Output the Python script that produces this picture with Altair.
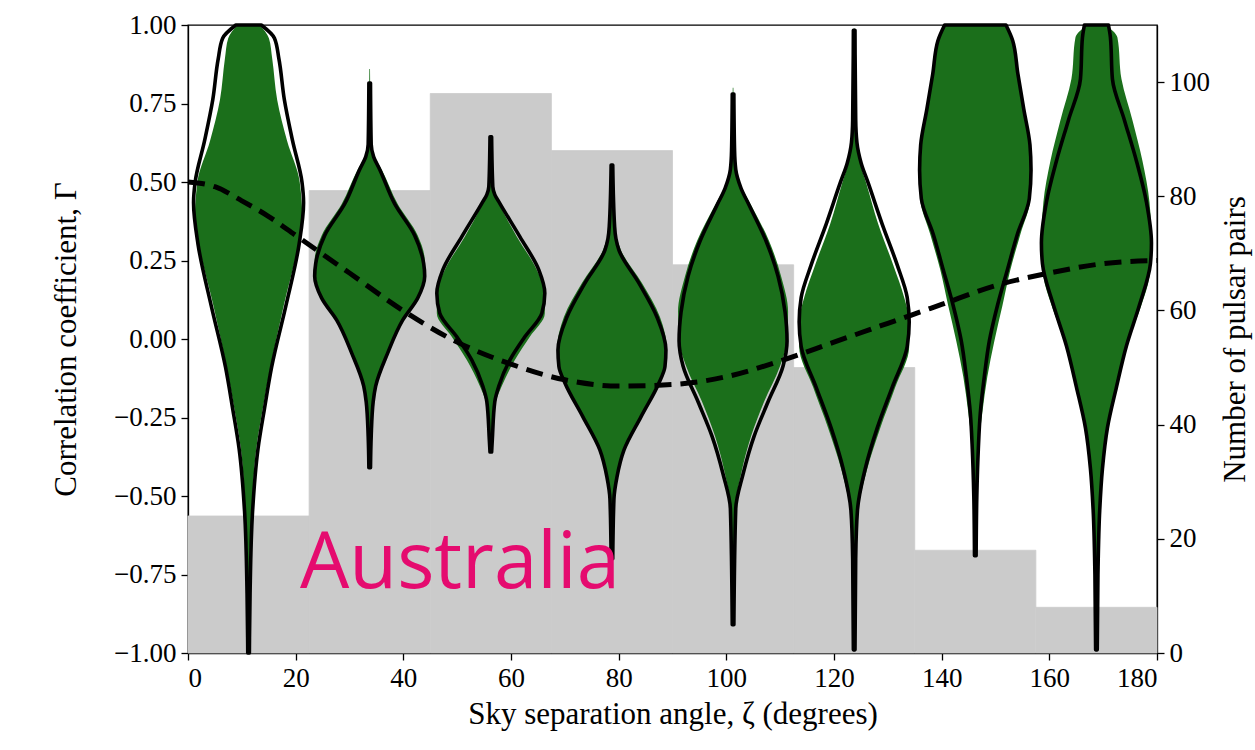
import altair as alt
import pandas as pd

# ---- histogram of pulsar pairs (right axis) ----
bin_lo = [0.0, 22.5, 45.0, 67.5, 90.0, 112.5, 135.0, 157.5]
bin_hi = [22.5, 45.0, 67.5, 90.0, 112.5, 135.0, 157.5, 180.0]
pair_counts = [24, 81, 98, 88, 68, 50, 18, 8]

# ---- violin centres (degrees) ----
centers = [11.25, 33.75, 56.25, 78.75, 101.25, 123.75, 146.25, 168.75]

# ---- violin profiles: y (correlation) and half-width (degrees) ----
v1_out_y = [1.00, 0.958, 0.893, 0.762, 0.631, 0.500, 0.434, 0.303, 0.107, -0.089, -0.22, -0.35, -0.55, -0.81, -1.00]
v1_out_w = [2.36, 4.81, 5.63, 6.65, 8.18, 9.92, 10.22, 9.40, 6.95, 4.29, 2.97, 1.75, 0.74, 0.28, 0.15]
v1_fill_y = [1.00, 0.958, 0.893, 0.762, 0.631, 0.500, 0.37, 0.303, 0.107, -0.089, -0.22, -0.35, -0.55, -0.70, -1.00]
v1_fill_w = [2.04, 3.78, 4.39, 5.31, 7.15, 9.50, 10.0, 9.30, 6.54, 4.09, 2.66, 1.43, 0.61, 0.20, 0.10]

v2_out_y = [0.815, 0.62, 0.58, 0.54, 0.43, 0.33, 0.24, 0.20, 0.13, 0.06, -0.045, -0.15, -0.20, -0.31, -0.41]
v2_out_w = [0.15, 0.28, 0.74, 1.86, 4.65, 8.36, 10.03, 10.22, 8.92, 6.13, 3.34, 1.11, 0.65, 0.28, 0.15]
v2_fill_y = [0.86, 0.62, 0.58, 0.54, 0.43, 0.33, 0.25, 0.20, 0.13, 0.06, -0.045, -0.15, -0.20, -0.30, -0.38]
v2_fill_w = [0.06, 0.28, 0.93, 2.23, 5.20, 8.92, 10.22, 10.03, 8.73, 5.95, 3.16, 1.11, 0.56, 0.19, 0.06]

v3_out_y = [0.644, 0.485, 0.46, 0.432, 0.326, 0.22, 0.146, 0.082, 0.007, -0.067, -0.15, -0.20, -0.32, -0.36]
v3_out_w = [0.15, 0.37, 0.74, 1.67, 5.39, 8.92, 10.03, 9.48, 6.32, 3.53, 1.49, 0.74, 0.28, 0.15]
v3_fill_y = [0.644, 0.485, 0.46, 0.432, 0.326, 0.22, 0.146, 0.082, 0.007, -0.067, -0.15, -0.20, -0.30, -0.36]
v3_fill_w = [0.06, 0.37, 0.74, 1.49, 4.83, 8.55, 10.03, 10.03, 7.25, 4.46, 2.04, 0.93, 0.19, 0.06]

v4_out_y = [0.554, 0.358, 0.32, 0.283, 0.178, 0.07, -0.035, -0.088, -0.14, -0.248, -0.354, -0.44, -0.51, -0.70]
v4_out_w = [0.15, 0.50, 0.74, 1.30, 5.02, 8.36, 10.03, 9.85, 8.73, 5.39, 2.23, 0.93, 0.37, 0.15]
v4_fill_y = [0.554, 0.358, 0.32, 0.283, 0.178, 0.07, -0.035, -0.088, -0.14, -0.248, -0.354, -0.44, -0.51, -0.62]
v4_fill_w = [0.06, 0.50, 0.93, 1.67, 5.57, 8.92, 10.22, 9.85, 8.55, 5.20, 2.23, 0.93, 0.37, 0.06]

v5_out_y = [0.78, 0.60, 0.54, 0.48, 0.427, 0.312, 0.20, 0.086, -0.006, -0.086, -0.20, -0.31, -0.43, -0.54, -0.91]
v5_out_w = [0.15, 0.28, 0.50, 1.49, 2.97, 6.13, 8.36, 9.66, 10.03, 9.29, 6.50, 3.90, 1.86, 0.50, 0.15]
v5_fill_y = [0.80, 0.60, 0.54, 0.48, 0.427, 0.312, 0.20, 0.086, -0.006, -0.086, -0.20, -0.31, -0.43, -0.54, -0.80]
v5_fill_w = [0.06, 0.28, 0.56, 1.67, 3.34, 6.69, 8.92, 10.22, 10.03, 8.73, 5.76, 3.34, 1.49, 0.37, 0.06]

v6_out_y = [0.983, 0.70, 0.627, 0.56, 0.497, 0.366, 0.236, 0.132, 0.054, -0.024, -0.154, -0.284, -0.414, -0.545, -0.70, -0.99]
v6_out_w = [0.15, 0.28, 0.50, 1.30, 2.60, 5.20, 7.99, 9.85, 10.22, 9.85, 7.06, 4.27, 2.04, 0.61, 0.28, 0.15]
v6_fill_y = [0.99, 0.70, 0.627, 0.56, 0.497, 0.366, 0.236, 0.132, 0.054, -0.024, -0.154, -0.284, -0.414, -0.545, -0.70, -0.95]
v6_fill_w = [0.06, 0.28, 0.46, 1.11, 2.23, 4.46, 7.25, 9.29, 10.22, 10.22, 7.62, 4.83, 2.42, 0.74, 0.22, 0.06]

v7_out_y = [1.00, 0.95, 0.845, 0.732, 0.618, 0.538, 0.447, 0.333, 0.22, 0.105, -0.007, -0.12, -0.235, -0.35, -0.50, -0.69]
v7_out_w = [5.70, 6.95, 7.90, 9.00, 10.15, 10.35, 10.03, 7.80, 5.95, 4.09, 2.60, 1.67, 0.93, 0.56, 0.28, 0.15]
v7_fill_y = [1.00, 0.95, 0.845, 0.732, 0.618, 0.538, 0.447, 0.333, 0.22, 0.105, -0.007, -0.12, -0.235, -0.35, -0.50, -0.60]
v7_fill_w = [5.50, 6.80, 7.90, 9.00, 10.15, 10.35, 10.22, 8.36, 6.50, 5.02, 3.53, 2.23, 1.30, 0.56, 0.19, 0.06]

v8_out_y = [1.00, 0.96, 0.828, 0.697, 0.567, 0.436, 0.306, 0.24, 0.108, -0.022, -0.153, -0.283, -0.414, -0.545, -0.75, -0.99]
v8_out_w = [2.23, 2.60, 2.97, 5.20, 7.43, 9.29, 10.22, 10.03, 7.99, 5.57, 3.72, 2.04, 1.11, 0.61, 0.28, 0.15]
v8_fill_y = [1.00, 0.96, 0.828, 0.697, 0.567, 0.436, 0.306, 0.20, 0.108, -0.022, -0.153, -0.283, -0.414, -0.545, -0.75, -0.95]
v8_fill_w = [1.67, 3.90, 4.65, 6.69, 8.55, 9.85, 10.22, 9.85, 8.36, 5.57, 3.72, 2.23, 1.11, 0.56, 0.15, 0.06]

# ---- dashed curve ----
curve_x = [0, 5, 10, 15, 20, 25, 30, 40, 50, 60, 70, 80, 90, 100, 110, 120, 130, 140, 150, 160, 170, 180]
curve_y = [0.50, 0.485, 0.44, 0.39, 0.33, 0.27, 0.21, 0.09, -0.01, -0.08, -0.13, -0.15, -0.145, -0.12,
           -0.07, -0.01, 0.05, 0.11, 0.17, 0.21, 0.24, 0.25]

label_text = ["Australia"]
label_x = [20.8]
label_y = [-0.793]

GREEN = "#1b6f1b"
GRAY = "#cbcbcb"
SERIF = "Liberation Serif"

profiles = [
    (v1_out_y, v1_out_w, v1_fill_y, v1_fill_w),
    (v2_out_y, v2_out_w, v2_fill_y, v2_fill_w),
    (v3_out_y, v3_out_w, v3_fill_y, v3_fill_w),
    (v4_out_y, v4_out_w, v4_fill_y, v4_fill_w),
    (v5_out_y, v5_out_w, v5_fill_y, v5_fill_w),
    (v6_out_y, v6_out_w, v6_fill_y, v6_fill_w),
    (v7_out_y, v7_out_w, v7_fill_y, v7_fill_w),
    (v8_out_y, v8_out_w, v8_fill_y, v8_fill_w),
]

rows = []
for i, (oy, ow, fy, fw) in enumerate(profiles):
    for y, w in zip(oy, ow):
        rows.append({"violin": i, "kind": "outline", "center": centers[i], "y": y, "w": w})
    for y, w in zip(fy, fw):
        rows.append({"violin": i, "kind": "fill", "center": centers[i], "y": y, "w": w})
violins = pd.DataFrame(rows).sort_values(["violin", "kind", "y"])

hist = pd.DataFrame({"lo": bin_lo, "hi": bin_hi, "count": pair_counts})
curve = pd.DataFrame({"x": curve_x, "g": curve_y})
label = pd.DataFrame({"x": label_x, "y": label_y, "t": label_text})

x_axis = alt.Axis(values=list(range(0, 181, 20)), title="Sky separation angle, ζ (degrees)",
                  grid=False, tickSize=7, labelPadding=5, titlePadding=8)
x_scale = alt.Scale(domain=[0, 180], nice=False, zero=False)

y_scale = alt.Scale(domain=[-1, 1], nice=False, zero=False)
y_axis = alt.Axis(orient="left", values=[-1, -0.75, -0.5, -0.25, 0, 0.25, 0.5, 0.75, 1],
                  format=".2f", title="Correlation coefficient, Γ", grid=False,
                  tickSize=7, labelPadding=5, titlePadding=31)

hist_layer = alt.Chart(hist).mark_rect(color=GRAY, stroke=GRAY, strokeWidth=0.8).encode(
    x=alt.X("lo:Q", scale=x_scale, axis=x_axis),
    x2="hi:Q",
    y=alt.Y("count:Q", scale=alt.Scale(domain=[0, 110], nice=False),
            axis=alt.Axis(orient="right", values=[0, 20, 40, 60, 80, 100],
                          title="Number of pulsar pairs", titleAngle=270, grid=False, tickSize=7,
                          labelPadding=5, titlePadding=42)),
    y2=alt.datum(0),
)

base_v = alt.Chart(violins).transform_calculate(
    lo="datum.center - datum.w", hi="datum.center + datum.w"
)

fill_layer = base_v.transform_filter(alt.datum.kind == "fill").mark_area(
    orient="horizontal", color=GREEN, interpolate="monotone"
).encode(
    y=alt.Y("y:Q", scale=y_scale, axis=y_axis),
    x=alt.X("lo:Q", scale=x_scale, axis=x_axis),
    x2="hi:Q",
    detail="violin:N",
)

outline_layer = base_v.transform_filter(alt.datum.kind == "outline").mark_area(
    orient="horizontal", fillOpacity=0, stroke="black", strokeWidth=3.6,
    interpolate="monotone", strokeJoin="round"
).encode(
    y=alt.Y("y:Q", scale=y_scale, axis=y_axis),
    x=alt.X("lo:Q", scale=x_scale, axis=x_axis),
    x2="hi:Q",
    detail="violin:N",
)

curve_layer = alt.Chart(curve).mark_line(
    color="black", strokeWidth=5, strokeDash=[17, 9], interpolate="monotone"
).encode(
    x=alt.X("x:Q", scale=x_scale, axis=x_axis),
    y=alt.Y("g:Q", scale=y_scale, axis=y_axis),
)

text_layer = alt.Chart(label).mark_text(
    font="Open Sans", fontSize=78, color="#e50b6f", align="left", baseline="alphabetic"
).encode(
    x=alt.X("x:Q", scale=x_scale, axis=x_axis),
    y=alt.Y("y:Q", scale=y_scale, axis=y_axis),
    text="t:N",
)

inner = alt.layer(fill_layer, outline_layer, curve_layer, text_layer)

chart = alt.layer(hist_layer, inner).resolve_scale(y="independent").properties(
    width=969, height=628,
    autosize=alt.AutoSizeParams(type="none"),
    padding={"left": 188, "top": 25, "right": 98, "bottom": 97},
    background="white",
).configure_view(
    stroke="black", strokeWidth=1.3
).configure_axis(
    labelFont=SERIF, labelFontSize=27, labelColor="black",
    titleFont=SERIF, titleFontSize=31, titleFontWeight="normal", titleColor="black",
    domainColor="black", domainWidth=1.3, tickColor="black", tickWidth=1.3,
)

chart.save("out.html", embed_options={"renderer": "svg", "actions": False})
